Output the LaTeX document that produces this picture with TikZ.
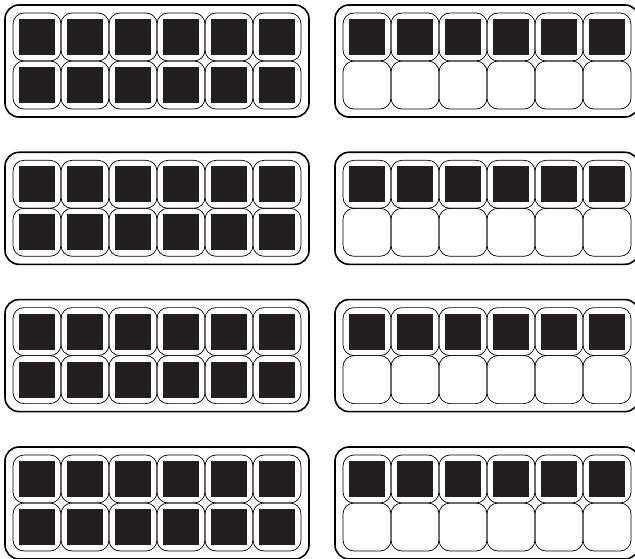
\documentclass[tikz,border=0pt]{standalone}
\begin{document}
\begin{tikzpicture}[x=1pt,y=-1pt]
	\definecolor{EggDark}{RGB}{35,31,32}
	\def\Carton{(0,0) rectangle (304,112)}
	\useasboundingbox (0,0) rectangle (635,559);
	\clip (0,0) rectangle (635,559);
	\foreach \cx/\last in {5/1,335/0} {
		\foreach \cy in {5,152.3,299.6,447} {
			\begin{scope}[shift={(\cx,\cy)}]
				\draw[line width=1.6pt,rounded corners=14pt] \Carton;
				\foreach \i in {0,...,5} {
					\foreach \j in {0,1}
						\draw[line width=0.7pt,rounded corners=11pt] (8+48*\i,8+48*\j) rectangle ++(48,48);
					\foreach \j in {0,...,\last}
						\fill[EggDark] (14+48*\i,14+48*\j) rectangle ++(36,36);
				}
			\end{scope}
		}
	}
\end{tikzpicture}
\end{document}
